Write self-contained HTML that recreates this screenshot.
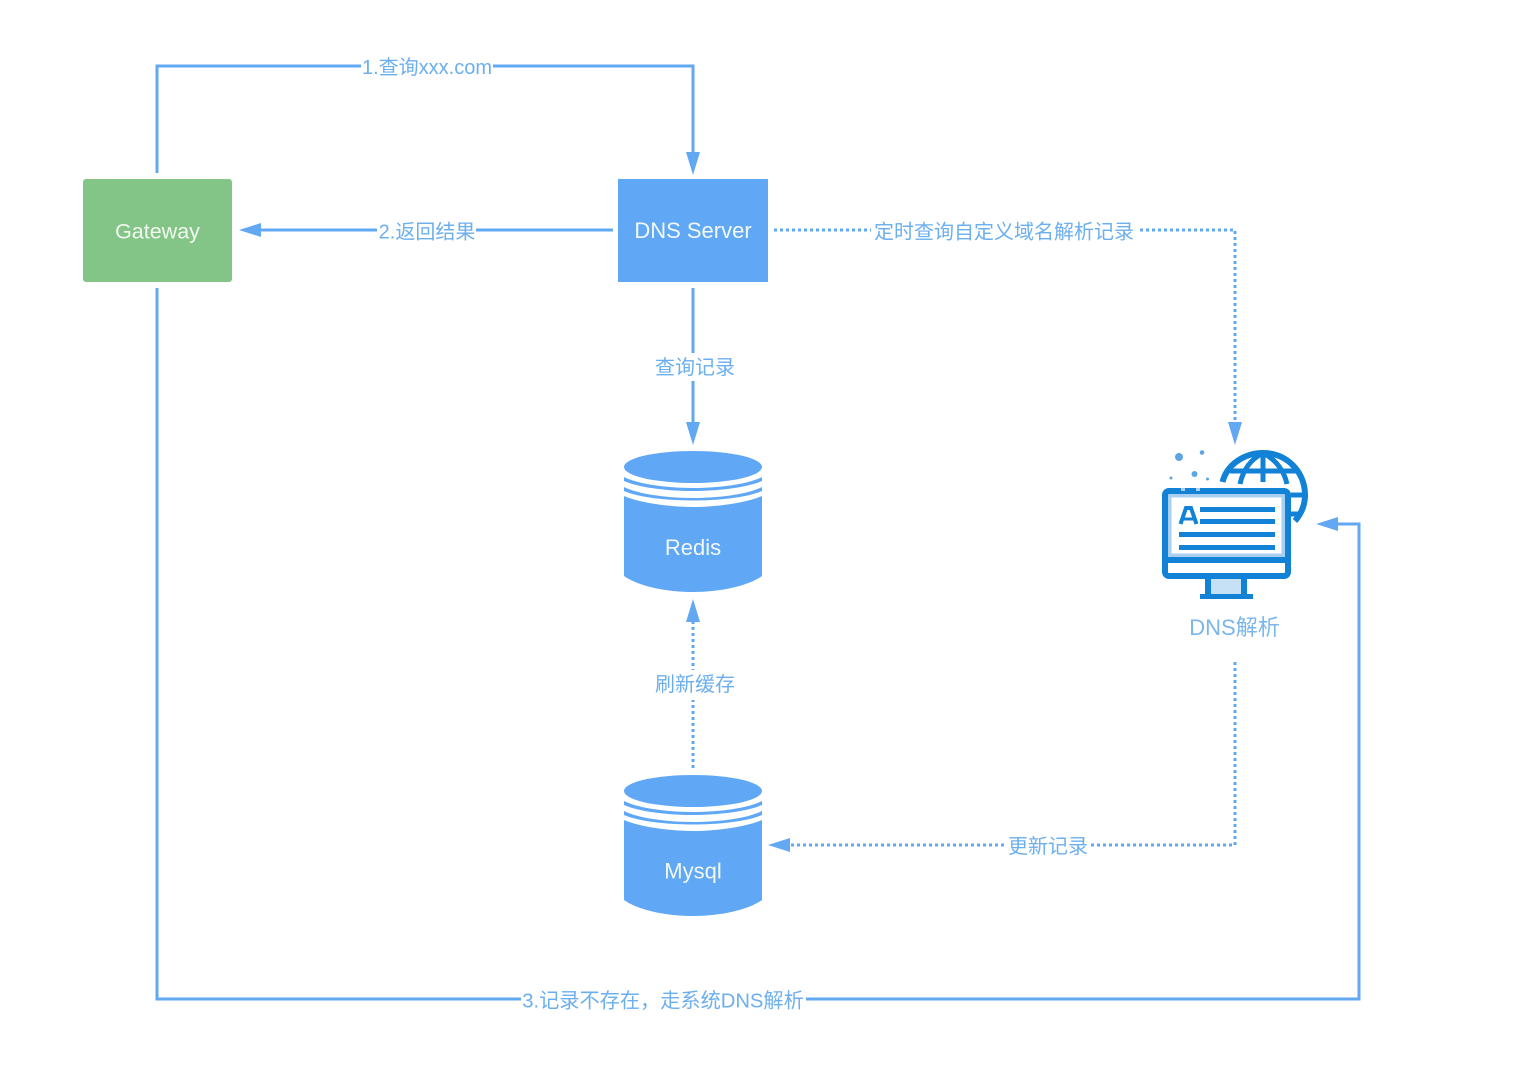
<!DOCTYPE html>
<html><head><meta charset="utf-8"><style>
html,body{margin:0;padding:0;background:#fff}
svg{display:block}
text{font-family:"Liberation Sans","Noto Sans CJK SC",sans-serif}
.l{font-size:20px;fill:#6cafef;text-anchor:middle}
.w{font-size:22px;fill:#f2f8ef;text-anchor:middle}
.s{fill:none;stroke:#62a8f3;stroke-width:3}
.d{fill:none;stroke:#62a8f3;stroke-width:3;stroke-dasharray:3 3}
.a{fill:#62a8f3}
.c{fill:#60a8f6}
</style></head><body>
<svg width="1527" height="1080" viewBox="0 0 1527 1080" xmlns="http://www.w3.org/2000/svg">
<rect width="1527" height="1080" fill="#fff"/>
<!-- connectors -->
<path class="s" d="M157 173V66H693V156"/>
<polygon class="a" points="686,152 700,152 693,175"/>
<path class="s" d="M613 230H255"/>
<polygon class="a" points="239,230 261,223 261,237"/>
<path class="s" d="M693 288V425"/>
<polygon class="a" points="686,422 700,422 693,445"/>
<path class="d" d="M774 230H1235V425"/>
<polygon class="a" points="1228,422 1242,422 1235,445"/>
<path class="d" d="M693 768V620"/>
<polygon class="a" points="686,622 700,622 693,599"/>
<path class="d" d="M1235 662V845H785"/>
<polygon class="a" points="768,845 790,838 790,852"/>
<path class="s" d="M157 288V999H1359V524H1332"/>
<polygon class="a" points="1316,524 1338,517 1338,531"/>
<!-- label backgrounds -->
<g fill="#fff">
<rect x="361" y="54" width="132" height="24"/>
<rect x="377" y="218" width="99" height="24"/>
<rect x="652" y="353" width="84" height="28"/>
<rect x="871" y="218" width="268" height="24"/>
<rect x="652" y="670" width="84" height="30"/>
<rect x="1007" y="833" width="82" height="24"/>
<rect x="521" y="987" width="285" height="24"/>
</g>
<!-- labels -->
<text class="l" x="427" y="74">1.查询xxx.com</text>
<text class="l" x="427" y="238.500">2.返回结果</text>
<text class="l" x="695" y="374">查询记录</text>
<text class="l" x="1004" y="238.500">定时查询自定义域名解析记录</text>
<text class="l" x="695" y="691">刷新缓存</text>
<text class="l" x="1048" y="853">更新记录</text>
<text class="l" x="663" y="1007.500" style="font-size:20.200px">3.记录不存在，走系统DNS解析</text>
<text class="l" x="1234.500" y="635" style="font-size:22px;fill:#7ab6ec">DNS解析</text>
<!-- boxes -->
<rect x="83" y="179" width="149" height="103" rx="3" fill="#83c587"/>
<text class="w" x="157.500" y="238.500" style="font-size:21.500px">Gateway</text>
<rect x="618" y="179" width="150" height="103" fill="#60a8f6"/>
<text class="w" x="693" y="238">DNS Server</text>
<!-- Redis -->
<g id="r">
<path class="c" d="M624 496C640 503 670 507 693 507S746 503 762 496V576C748 586 720 592 693 592S638 586 624 576Z"/>
<path class="c" d="M624 477C640 485 670 488 693 488S746 485 762 477V481C746 488 716 491 693 491S640 488 624 481Z"/>
<path class="c" d="M624 487C640 495 670 498 693 498S746 495 762 487V491C746 498 716 500.500 693 500.500S640 498 624 491Z"/>
<ellipse class="c" cx="693" cy="467" rx="69" ry="16"/>
</g>
<text class="w" x="693" y="555">Redis</text>
<!-- Mysql -->
<use href="#r" y="324"/>
<text class="w" x="693" y="878.500">Mysql</text>
<!-- icon -->
<g>
<circle cx="1179" cy="457" r="4" fill="#5da5e4"/>
<circle cx="1202" cy="452.500" r="2.300" fill="#5da5e4"/>
<circle cx="1194.500" cy="474" r="3" fill="#5da5e4"/>
<circle cx="1171" cy="478" r="1.500" fill="#5da5e4"/>
<circle cx="1207.500" cy="479" r="1.500" fill="#5da5e4"/>
<g fill="none" stroke="#1282d6" stroke-width="6">
<path d="M1222.500 482C1227 464 1245 453 1263 453C1287 453 1305 472 1305 495C1305 506 1301 514 1295 521"/>
<path d="M1263 453V482M1240 484C1243 470 1251 459 1263 453C1275 459 1284 470 1287 484" stroke-width="5"/>
<path d="M1230 471H1297" stroke-width="5"/>
<path d="M1291 495H1304M1291 514H1300" stroke-width="5"/>
</g>
<rect x="1162" y="488" width="129" height="91" rx="7" fill="#fff"/>
<rect x="1169.500" y="495.500" width="114" height="60" fill="#fff" stroke="#a9cff0" stroke-width="4"/>
<path d="M1165 495a4 4 0 0 1 4-4H1284a4 4 0 0 1 4 4V572a4 4 0 0 1-4 4H1169a4 4 0 0 1-4-4Z" fill="none" stroke="#1282d6" stroke-width="6"/>
<rect x="1181" y="488" width="4" height="3" fill="#a9cff0"/>
<rect x="1196" y="488" width="4" height="3" fill="#a9cff0"/>
<rect x="1164" y="557" width="125" height="6" fill="#1282d6"/>
<rect x="1200" y="507" width="75" height="5" fill="#1282d6"/>
<rect x="1200" y="519" width="75" height="5" fill="#1282d6"/>
<rect x="1179" y="532" width="96" height="5" fill="#1282d6"/>
<rect x="1179" y="545" width="96" height="5" fill="#1282d6"/>
<path d="M1180.500 524L1186 508H1191L1196.500 524" fill="none" stroke="#1282d6" stroke-width="4"/>
<path d="M1183 519H1194" stroke="#1282d6" stroke-width="3"/>
<rect x="1211" y="579" width="31" height="15" fill="#c6e0f6"/>
<rect x="1205" y="579" width="6" height="15" fill="#1282d6"/>
<rect x="1241" y="579" width="6" height="15" fill="#1282d6"/>
<rect x="1200" y="594" width="53" height="5" fill="#1282d6"/>
</g>
</svg>
</body></html>
